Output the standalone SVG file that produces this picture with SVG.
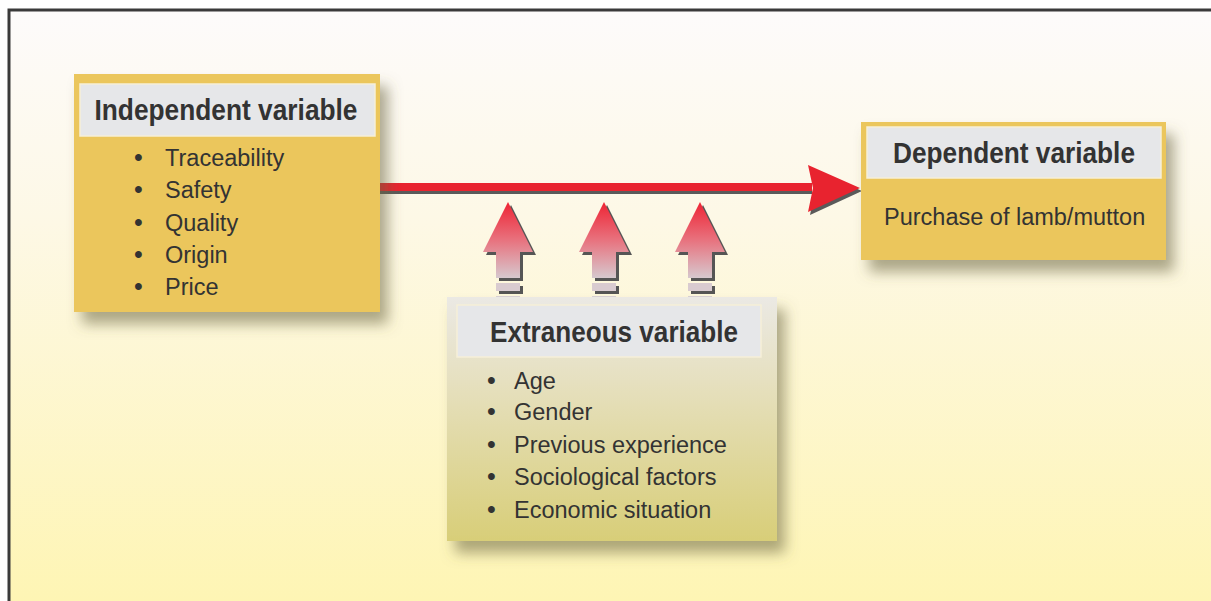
<svg xmlns="http://www.w3.org/2000/svg" width="1211" height="601" viewBox="0 0 1211 601">
  <defs>
    <linearGradient id="bg" x1="0" y1="0" x2="0" y2="1">
      <stop offset="0" stop-color="#fdfbfb"/>
      <stop offset="0.35" stop-color="#fdf8e6"/>
      <stop offset="1" stop-color="#fef5b4"/>
    </linearGradient>
    <linearGradient id="extGrad" x1="0" y1="0" x2="0" y2="1">
      <stop offset="0" stop-color="#ebe9e4"/>
      <stop offset="0.35" stop-color="#e6e0bf"/>
      <stop offset="1" stop-color="#d8ce78"/>
    </linearGradient>
    <linearGradient id="upGrad" x1="0" y1="0" x2="0" y2="1">
      <stop offset="0" stop-color="#ee2434"/>
      <stop offset="0.5" stop-color="#e8727e"/>
      <stop offset="1" stop-color="#d6c8ce"/>
    </linearGradient>
    <filter id="shadow" x="-10%" y="-10%" width="130%" height="135%">
      <feDropShadow dx="8" dy="12" stdDeviation="7" flood-color="#6b6340" flood-opacity="0.55"/>
    </filter>
    <g id="uparrow">
      <g fill="#555" transform="translate(3,3)">
        <path d="M0,0 L25,50 L12,50 L12,76 L-12,76 L-12,50 L-25,50 Z"/>
        <rect x="-12" y="81" width="24" height="8"/>
        <rect x="-12" y="94" width="24" height="6"/>
      </g>
      <g fill="url(#upGrad)">
        <path d="M0,0 L25,50 L12,50 L12,76 L-12,76 L-12,50 L-25,50 Z"/>
      </g>
      <rect x="-12" y="81" width="24" height="8" fill="#d9cbd0"/>
      <rect x="-12" y="94" width="24" height="6" fill="#d8d2d5"/>
    </g>
  </defs>
  <style>
    .box { fill: #ebc65c; }
    .hdr { fill: #e6e7e9; stroke: #f6efd8; stroke-width: 1.5; }
    .title { font-family: "Liberation Sans", Arial, sans-serif; font-weight: bold; font-size: 29px; fill: #333333; text-anchor: middle; }
    .item { font-family: "Liberation Sans", Arial, sans-serif; font-size: 23.5px; fill: #333333; }
    .bul { font-family: "Liberation Sans", Arial, sans-serif; font-size: 25px; fill: #333333; }
  </style>

  <rect x="0" y="0" width="1211" height="601" fill="#ffffff"/>
  <rect x="9" y="10" width="1202" height="591" fill="url(#bg)"/>
  <path d="M9,601 L9,10 L1211,10" fill="none" stroke="#3a3a3a" stroke-width="3"/>

  <g id="connectors">
    <rect x="380" y="186" width="432" height="8" fill="#5a5a5a"/>
    <rect x="380" y="183" width="432" height="8" fill="#e8232f"/>
    <path d="M810,168 L862,191 L810,215 L815,191 Z" fill="#5a5a5a"/>
    <path d="M808,165 L860,188 L808,212 L813,188 Z" fill="#e8232f"/>
    <use href="#uparrow" x="508" y="202"/>
    <use href="#uparrow" x="604" y="202"/>
    <use href="#uparrow" x="700" y="202"/>
  </g>

  <g id="independent">
    <rect class="box" x="74" y="74" width="306" height="238" filter="url(#shadow)"/>
    <rect class="hdr" x="80" y="84" width="295" height="52"/>
    <text class="title" x="226" y="120" textLength="263" lengthAdjust="spacingAndGlyphs">Independent variable</text>
    <g class="bul">
      <text x="134" y="166">•</text>
      <text x="134" y="198">•</text>
      <text x="134" y="231">•</text>
      <text x="134" y="263">•</text>
      <text x="134" y="295">•</text>
    </g>
    <g class="item">
      <text x="165" y="166">Traceability</text>
      <text x="165" y="198">Safety</text>
      <text x="165" y="231">Quality</text>
      <text x="165" y="263">Origin</text>
      <text x="165" y="295">Price</text>
    </g>
  </g>

  <g id="dependent">
    <rect class="box" x="861" y="122" width="305" height="138" filter="url(#shadow)"/>
    <rect class="hdr" x="867" y="127" width="294" height="51"/>
    <text class="title" x="1014" y="163" textLength="242" lengthAdjust="spacingAndGlyphs">Dependent variable</text>
    <text class="item" x="884" y="225">Purchase of lamb/mutton</text>
  </g>

  <g id="extraneous">
    <rect x="447" y="297" width="330" height="244" fill="url(#extGrad)" filter="url(#shadow)"/>
    <rect class="hdr" x="457" y="305" width="304" height="52" stroke="#f4f4f2"/>
    <text class="title" x="614" y="342" textLength="248" lengthAdjust="spacingAndGlyphs">Extraneous variable</text>
    <g class="bul">
      <text x="487" y="389">•</text>
      <text x="487" y="420">•</text>
      <text x="487" y="453">•</text>
      <text x="487" y="485">•</text>
      <text x="487" y="518">•</text>
    </g>
    <g class="item">
      <text x="514" y="389">Age</text>
      <text x="514" y="420">Gender</text>
      <text x="514" y="453">Previous experience</text>
      <text x="514" y="485">Sociological factors</text>
      <text x="514" y="518">Economic situation</text>
    </g>
  </g>
</svg>
